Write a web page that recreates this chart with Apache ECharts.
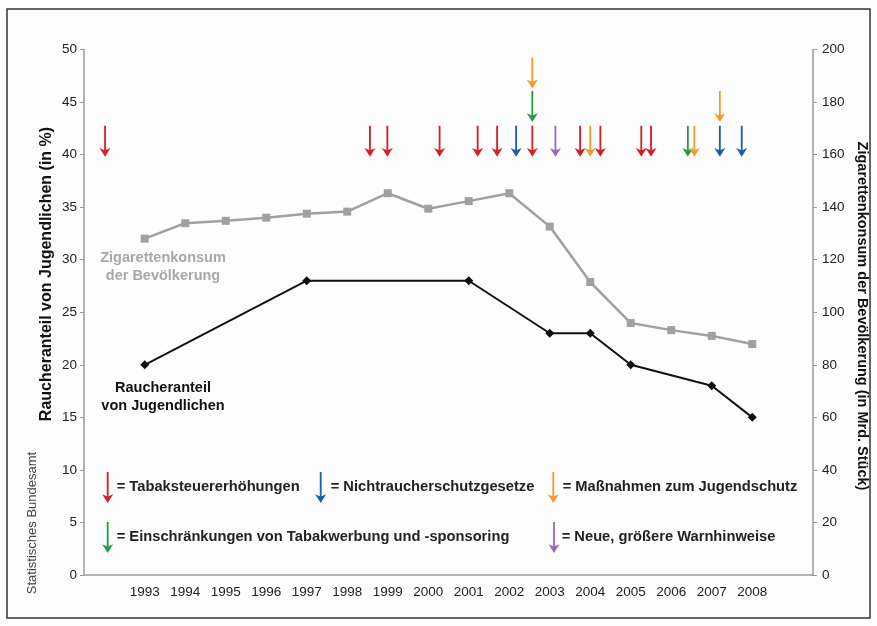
<!DOCTYPE html>
<html>
<head>
<meta charset="utf-8">
<script src="https://cdn.jsdelivr.net/npm/echarts@6/dist/echarts.min.js"></script>
<style>
  html, body { margin: 0; padding: 0; background: #fdfdfd; }
  #chart { width: 877px; height: 626px; }
</style>
</head>
<body>
<div id="chart"></div>
<script>
// categories: empty slot at both ends, as in the original layout
const years = ['', '1993', '1994', '1995', '1996', '1997', '1998', '1999', '2000',
  '2001', '2002', '2003', '2004', '2005', '2006', '2007', '2008', ''];

// Zigarettenkonsum der Bevölkerung (Mrd. Stück), right axis
const cigaretteConsumption = [null, 128.0, 133.9, 134.8, 136.0, 137.5, 138.3, 145.3, 139.4,
  142.3, 145.3, 132.6, 111.5, 95.9, 93.2, 91.0, 87.9, null];

// Raucheranteil von Jugendlichen (%), left axis
const youthSmokers = [null, 20, null, null, null, 28, null, null, null,
  28, null, 23, 23, 20, null, 18, 15, null];

// measure arrows: [year position, arrow tip on left axis]
const taxRaise = [[1992.02, 39.8], [1998.56, 39.8], [1998.99, 39.8], [2000.28, 39.8],
  [2001.22, 39.8], [2001.70, 39.8], [2002.57, 39.8], [2003.75, 39.8], [2004.25, 39.8],
  [2005.26, 39.8], [2005.50, 39.8]];
const smokeFreeLaw = [[2002.17, 39.8], [2007.20, 39.8], [2007.74, 39.8]];
const youthProtection = [[2002.57, 46.3], [2004.00, 39.8], [2006.57, 39.8], [2007.20, 43.1]];
const adRestriction = [[2002.57, 43.1], [2006.41, 39.8]];
const warningLabels = [[2003.14, 39.8]];

const FONT = '"Liberation Sans", Arial, sans-serif';
// arrow outline in a 12 x 32 box
const ARROW_PTS = [[5, 0], [7, 0], [7, 25], [12, 23], [6, 32], [0, 23], [5, 25]];
const ARROW = 'M' + ARROW_PTS.map(p => p.join(',')).join(' L') + ' Z';
const RED = '#d42128', BLUE = '#1d5ea8', ORANGE = '#f29a2e', GREEN = '#2c9a4a', PURPLE = '#9c6cb0';

const chart = echarts.init(document.getElementById('chart'));

function arrowSeries(name, data, color) {
  return {
    name: name,
    type: 'scatter',
    xAxisIndex: 1,
    yAxisIndex: 0,
    data: data,
    symbol: 'path://' + ARROW,
    symbolSize: [11, 31],
    symbolOffset: [0, '-50%'],
    itemStyle: { color: color, opacity: 1 },
    silent: true,
    z: 5
  };
}

function legendArrow(cx, top, color) {
  const sx = 11 / 12, sy = 31 / 32;
  return {
    type: 'polygon',
    shape: { points: ARROW_PTS.map(p => [cx - 5.5 + p[0] * sx, top + p[1] * sy]) },
    style: { fill: color },
    silent: true
  };
}

function legendText(x, y, text) {
  return {
    type: 'text',
    x: x, y: y,
    style: {
      text: text, fill: '#222', font: 'bold 14.7px ' + FONT,
      textAlign: 'left', textVerticalAlign: 'middle'
    }
  };
}

const option = {
  backgroundColor: '#fdfdfd',
  animation: false,
  grid: { left: 84, right: 64, top: 49.5, bottom: 51 },
  xAxis: [
    {
      type: 'category',
      data: years,
      axisLine: { lineStyle: { color: '#9a9a9a', width: 1.5 } },
      axisTick: { length: 4, lineStyle: { color: '#9a9a9a' } },
      axisLabel: { interval: 0, color: '#222', fontSize: 13.5, fontFamily: FONT, margin: 10 }
    },
    { type: 'value', min: 1991.5, max: 2009.5, show: false }
  ],
  yAxis: [
    {
      type: 'value',
      min: 0, max: 50, interval: 5,
      splitLine: { show: false },
      axisLine: { show: true, lineStyle: { color: '#9a9a9a', width: 1.5 } },
      axisTick: { show: true, length: 4, lineStyle: { color: '#9a9a9a' } },
      axisLabel: { color: '#222', fontSize: 13.5, fontFamily: FONT, margin: 7 }
    },
    {
      type: 'value',
      min: 0, max: 200, interval: 20,
      splitLine: { show: false },
      axisLine: { show: true, lineStyle: { color: '#9a9a9a', width: 1.5 } },
      axisTick: { show: true, length: 4, lineStyle: { color: '#9a9a9a' } },
      axisLabel: { color: '#222', fontSize: 13.5, fontFamily: FONT, margin: 9 }
    }
  ],
  series: [
    {
      name: 'Zigarettenkonsum der Bevölkerung',
      type: 'line',
      yAxisIndex: 1,
      data: cigaretteConsumption,
      symbol: 'rect',
      symbolSize: 8,
      lineStyle: { color: '#a0a0a0', width: 2.5 },
      itemStyle: { color: '#a0a0a0' },
      z: 3
    },
    {
      name: 'Raucheranteil von Jugendlichen',
      type: 'line',
      yAxisIndex: 0,
      data: youthSmokers,
      connectNulls: true,
      symbol: 'diamond',
      symbolSize: 9,
      lineStyle: { color: '#111', width: 2 },
      itemStyle: { color: '#111' },
      z: 4
    },
    arrowSeries('Tabaksteuererhöhungen', taxRaise, RED),
    arrowSeries('Nichtraucherschutzgesetze', smokeFreeLaw, BLUE),
    arrowSeries('Einschränkungen von Tabakwerbung und -sponsoring', adRestriction, GREEN),
    arrowSeries('Neue, größere Warnhinweise', warningLabels, PURPLE),
    arrowSeries('Maßnahmen zum Jugendschutz', youthProtection, ORANGE)
  ],
  graphic: [
    {
      type: 'rect',
      shape: { x: 7, y: 9, width: 863, height: 609 },
      style: { fill: 'none', stroke: '#333', lineWidth: 1.5 },
      silent: true
    },
    {
      type: 'text', x: 47, y: 274, rotation: Math.PI / 2,
      style: {
        text: 'Raucheranteil von Jugendlichen (in %)', fill: '#111',
        font: 'bold 16px ' + FONT, textAlign: 'center', textVerticalAlign: 'middle'
      }
    },
    {
      type: 'text', x: 862, y: 316, rotation: -Math.PI / 2,
      style: {
        text: 'Zigarettenkonsum der Bevölkerung (in Mrd. Stück)', fill: '#111',
        font: 'bold 14.5px ' + FONT, textAlign: 'center', textVerticalAlign: 'middle'
      }
    },
    {
      type: 'text', x: 32, y: 523, rotation: Math.PI / 2,
      style: {
        text: 'Statistisches Bundesamt', fill: '#444',
        font: '13px ' + FONT, textAlign: 'center', textVerticalAlign: 'middle'
      }
    },
    {
      type: 'text', x: 163, y: 267,
      style: {
        text: 'Zigarettenkonsum\nder Bevölkerung', fill: '#a8a8a8',
        font: 'bold 14.5px ' + FONT, lineHeight: 18,
        textAlign: 'center', textVerticalAlign: 'middle'
      }
    },
    {
      type: 'text', x: 163, y: 397,
      style: {
        text: 'Raucheranteil\nvon Jugendlichen', fill: '#111',
        font: 'bold 14.5px ' + FONT, lineHeight: 18,
        textAlign: 'center', textVerticalAlign: 'middle'
      }
    },
    legendArrow(107.7, 472, RED),
    legendText(116.7, 487, '= Tabaksteuererhöhungen'),
    legendArrow(320.7, 472, BLUE),
    legendText(330.7, 487, '= Nichtraucherschutzgesetze'),
    legendArrow(553.3, 472, ORANGE),
    legendText(562.7, 487, '= Maßnahmen zum Jugendschutz'),
    legendArrow(107.7, 522, GREEN),
    legendText(116.7, 537, '= Einschränkungen von Tabakwerbung und -sponsoring'),
    legendArrow(554, 522, PURPLE),
    legendText(561.7, 537, '= Neue, größere Warnhinweise')
  ]
};

chart.setOption(option);
window.addEventListener('resize', () => chart.resize());
</script>
</body>
</html>
